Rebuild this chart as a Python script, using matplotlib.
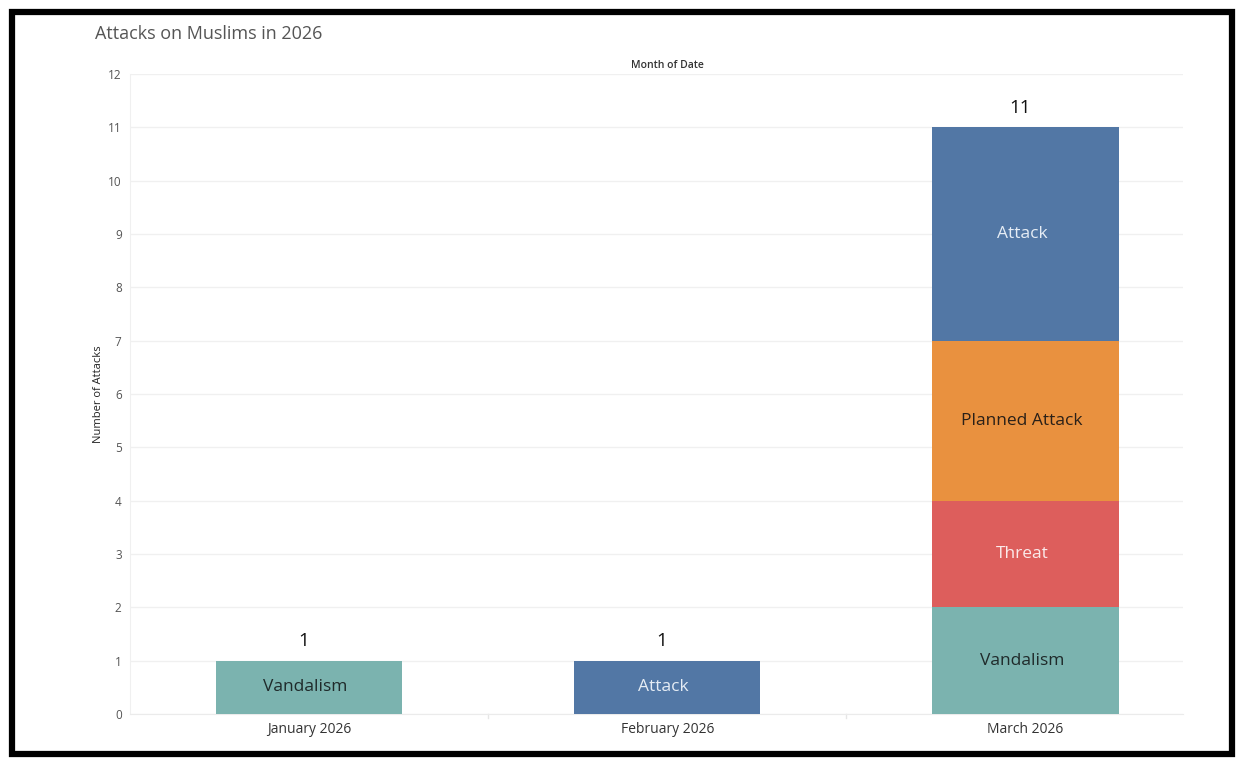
import matplotlib
matplotlib.use("Agg")
import matplotlib.pyplot as plt
from matplotlib.patches import Rectangle
import numpy as np

# ── Data ─────────────────────────────────────────────────────────────────────
months = ["January 2026", "February 2026", "March 2026"]
attack_types = ["Vandalism", "Threat", "Planned Attack", "Attack"]
vandalism = [1, 0, 2]
threat = [0, 0, 2]
planned_attack = [0, 0, 3]
attack = [0, 1, 4]
y_ticks = list(range(0, 13))

series = [vandalism, threat, planned_attack, attack]
colors = ["#7bb3af", "#dd5e5c", "#e9913f", "#5277a5"]
label_colors = ["#1f2a2a", "#fbeaea", "#2a2018", "#e6edf5"]

plt.rcParams["font.family"] = ["Open Sans", "DejaVu Sans"]

fig = plt.figure(figsize=(12.44, 7.66), dpi=100)
fig.patch.set_facecolor("white")
ax = fig.add_axes([130 / 1244, 1 - 714 / 766, (1183 - 130) / 1244, (714 - 74) / 766])

x = np.arange(len(months))
bar_w = 0.52
bottom = np.zeros(len(months))
for vals, name, col, lcol in zip(series, attack_types, colors, label_colors):
    vals = np.array(vals, dtype=float)
    ax.bar(x, vals, bar_w, bottom=bottom, color=col, edgecolor="none", zorder=3)
    for xi, v, b in zip(x, vals, bottom):
        if v > 0:
            ax.text(xi - 0.01, b + v / 2, name, ha="center", va="center",
                    fontsize=12.5, color=lcol, zorder=4)
    bottom += vals

# totals above bars
for xi, tot in zip(x, bottom):
    ax.text(xi - 0.015, tot + 0.37, f"{int(tot)}", ha="center", va="center",
            fontsize=13.5, color="#111111", zorder=4)

ax.set_xlim(-0.5, 2.44)
ax.set_ylim(0, 12)
ax.set_yticks(y_ticks)
ax.set_yticklabels([str(t) for t in y_ticks], fontsize=8.5, color="#555555")
ax.set_xticks(x)
ax.set_xticklabels(months, fontsize=10, color="#333333")
ax.tick_params(axis="x", length=0, pad=6)
ax.tick_params(axis="y", length=0, pad=6)
ax.grid(axis="y", color="#f0f0f0", linewidth=1, zorder=0)
for s in ["top", "right"]:
    ax.spines[s].set_visible(False)
ax.spines["left"].set_color("#f0f0f0")
ax.spines["bottom"].set_color("#ebebeb")

# category separators under the axis
for sep in [0.5, 1.5]:
    ax.plot([sep, sep], [0, -0.08], color="#e6e6e6", lw=1, clip_on=False)

ax.set_ylabel("Number of Attacks", fontsize=8, color="#222222", labelpad=3)
fig.text(667 / 1244, 1 - 65 / 766, "Month of Date", ha="center",
         va="center", fontsize=7.5, color="#333333", fontweight="semibold")

fig.text(95 / 1244, 1 - 34 / 766, "Attacks on Muslims in 2026", ha="left",
         va="center", fontsize=13, color="#555555")

# black frame around the view
fig.patches.append(Rectangle((12 / 1244, 1 - 754 / 766), (1232 - 12) / 1244,
                             (754 - 12) / 766, transform=fig.transFigure,
                             fill=False, edgecolor="black", linewidth=4.5))

fig.savefig("out.png", dpi=100, facecolor="white")
